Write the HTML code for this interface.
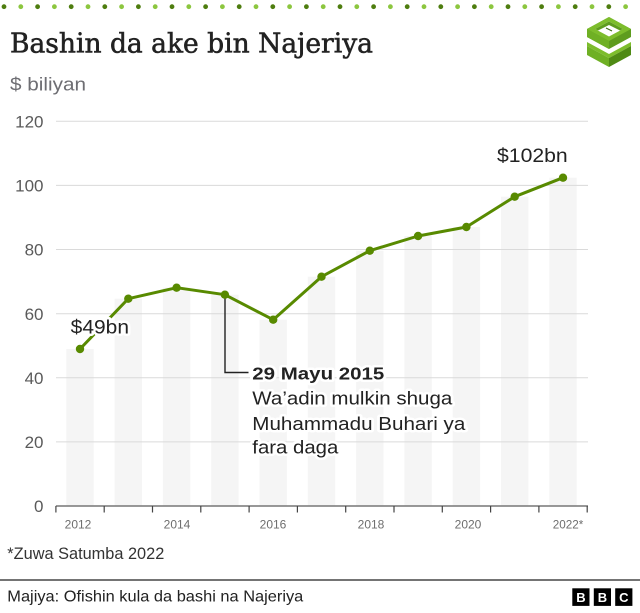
<!DOCTYPE html>
<html><head><meta charset="utf-8"><style>
html,body{margin:0;padding:0;background:#fff;}
svg{display:block;}
text{font-family:"Liberation Sans","DejaVu Sans",sans-serif;}
.halo{paint-order:stroke;stroke:#fff;stroke-width:5px;stroke-linejoin:round;}
</style></head><body>
<svg width="640" height="613" viewBox="0 0 640 613" xmlns="http://www.w3.org/2000/svg">
<rect width="640" height="613" fill="#fff"/>
<!-- top dots -->
<g>
<circle cx="4" cy="6.7" r="2.4" fill="#4e7d0f"/><circle cx="20.8" cy="6.7" r="2.4" fill="#8cc63f"/><circle cx="37.6" cy="6.7" r="2.4" fill="#4e7d0f"/><circle cx="54.4" cy="6.7" r="2.4" fill="#8cc63f"/><circle cx="71.2" cy="6.7" r="2.4" fill="#4e7d0f"/><circle cx="88" cy="6.7" r="2.4" fill="#8cc63f"/><circle cx="104.8" cy="6.7" r="2.4" fill="#4e7d0f"/><circle cx="121.6" cy="6.7" r="2.4" fill="#8cc63f"/><circle cx="138.4" cy="6.7" r="2.4" fill="#4e7d0f"/><circle cx="155.2" cy="6.7" r="2.4" fill="#8cc63f"/><circle cx="172" cy="6.7" r="2.4" fill="#4e7d0f"/><circle cx="188.8" cy="6.7" r="2.4" fill="#8cc63f"/><circle cx="205.6" cy="6.7" r="2.4" fill="#4e7d0f"/><circle cx="222.4" cy="6.7" r="2.4" fill="#8cc63f"/><circle cx="239.2" cy="6.7" r="2.4" fill="#4e7d0f"/><circle cx="256" cy="6.7" r="2.4" fill="#8cc63f"/><circle cx="272.8" cy="6.7" r="2.4" fill="#4e7d0f"/><circle cx="289.6" cy="6.7" r="2.4" fill="#8cc63f"/><circle cx="306.4" cy="6.7" r="2.4" fill="#4e7d0f"/><circle cx="323.2" cy="6.7" r="2.4" fill="#8cc63f"/><circle cx="340" cy="6.7" r="2.4" fill="#4e7d0f"/><circle cx="356.8" cy="6.7" r="2.4" fill="#8cc63f"/><circle cx="373.6" cy="6.7" r="2.4" fill="#4e7d0f"/><circle cx="390.4" cy="6.7" r="2.4" fill="#8cc63f"/><circle cx="407.2" cy="6.7" r="2.4" fill="#4e7d0f"/><circle cx="424" cy="6.7" r="2.4" fill="#8cc63f"/><circle cx="440.8" cy="6.7" r="2.4" fill="#4e7d0f"/><circle cx="457.6" cy="6.7" r="2.4" fill="#8cc63f"/><circle cx="474.4" cy="6.7" r="2.4" fill="#4e7d0f"/><circle cx="491.2" cy="6.7" r="2.4" fill="#8cc63f"/><circle cx="508" cy="6.7" r="2.4" fill="#4e7d0f"/><circle cx="524.8" cy="6.7" r="2.4" fill="#8cc63f"/><circle cx="541.6" cy="6.7" r="2.4" fill="#4e7d0f"/><circle cx="558.4" cy="6.7" r="2.4" fill="#8cc63f"/><circle cx="575.2" cy="6.7" r="2.4" fill="#4e7d0f"/><circle cx="592" cy="6.7" r="2.4" fill="#8cc63f"/><circle cx="608.8" cy="6.7" r="2.4" fill="#4e7d0f"/><circle cx="625.6" cy="6.7" r="2.4" fill="#8cc63f"/>
</g>
<!-- title -->
<text x="10" y="52.3" font-size="27" fill="#222" stroke="#222" stroke-width="0.55" style="font-family:'DejaVu Serif','Liberation Serif',serif" textLength="363" lengthAdjust="spacingAndGlyphs">Bashin da ake bin Najeriya</text>
<text x="10" y="90.5" font-size="18" fill="#6e6e73" textLength="76" lengthAdjust="spacingAndGlyphs">$ biliyan</text>
<!-- logo -->
<g>
<polygon points="609,17 631,29 631,37 609,49 587,37 587,29" fill="#5e9c1e"/>
<polygon points="587,29 609,41 609,49 587,37" fill="#6fb024"/>
<polygon points="609,17 631,29 609,41 587,29" fill="#7dbd2c"/>
<polygon points="609,21.5 623,29 609,36.5 595,29" fill="#fff"/>
<polygon points="609,21.5 623,29 620,30.5 609,25 598,30.5 595,29" fill="#5e9c1e"/>
<line x1="606" y1="28" x2="612" y2="31" stroke="#3d6b10" stroke-width="1"/>
<polygon points="587,42 609,54 631,42 631,46 609,58 587,46" fill="#7dbd2c"/>
<polygon points="587,46 609,58 609,67 587,55" fill="#6fb024"/>
<polygon points="609,58 631,46 631,55 609,67" fill="#4f8a14"/>
</g>
<!-- bars -->
<g fill="#f5f5f5">
<rect x="66.3" y="349" width="27.4" height="157"/>
<rect x="114.6" y="298.7" width="27.4" height="207.3"/>
<rect x="162.9" y="287.7" width="27.4" height="218.3"/>
<rect x="211.2" y="294.7" width="27.4" height="211.3"/>
<rect x="259.5" y="319.7" width="27.4" height="186.3"/>
<rect x="307.8" y="276.7" width="27.4" height="229.3"/>
<rect x="356.1" y="250.7" width="27.4" height="255.3"/>
<rect x="404.4" y="236" width="27.4" height="270"/>
<rect x="452.7" y="227" width="27.4" height="279"/>
<rect x="501" y="196.7" width="27.4" height="309.3"/>
<rect x="549.3" y="177.7" width="27.4" height="328.3"/>
</g>
<!-- gridlines -->
<g stroke="#dadada" stroke-width="1">
<line x1="56" y1="121.3" x2="588" y2="121.3"/>
<line x1="56" y1="185.4" x2="588" y2="185.4"/>
<line x1="56" y1="249.5" x2="588" y2="249.5"/>
<line x1="56" y1="313.7" x2="588" y2="313.7"/>
<line x1="56" y1="377.8" x2="588" y2="377.8"/>
<line x1="56" y1="441.9" x2="588" y2="441.9"/>
</g>
<!-- y labels -->
<g font-size="17" fill="#5a5a5a" text-anchor="end">
<text x="43.5" y="127.5">120</text>
<text x="43.5" y="191.5">100</text>
<text x="43.5" y="255.7">80</text>
<text x="43.5" y="319.8">60</text>
<text x="43.5" y="383.9">40</text>
<text x="43.5" y="448">20</text>
<text x="43.5" y="512">0</text>
</g>
<!-- axis -->
<line x1="55.9" y1="506" x2="588" y2="506" stroke="#777" stroke-width="1.5"/>
<g stroke="#444" stroke-width="1.2">
<line x1="55.9" y1="506" x2="55.9" y2="512.5"/>
<line x1="104.2" y1="506" x2="104.2" y2="512.5"/>
<line x1="152.5" y1="506" x2="152.5" y2="512.5"/>
<line x1="200.8" y1="506" x2="200.8" y2="512.5"/>
<line x1="249.1" y1="506" x2="249.1" y2="512.5"/>
<line x1="297.4" y1="506" x2="297.4" y2="512.5"/>
<line x1="345.7" y1="506" x2="345.7" y2="512.5"/>
<line x1="394" y1="506" x2="394" y2="512.5"/>
<line x1="442.3" y1="506" x2="442.3" y2="512.5"/>
<line x1="490.6" y1="506" x2="490.6" y2="512.5"/>
<line x1="538.9" y1="506" x2="538.9" y2="512.5"/>
<line x1="587.2" y1="506" x2="587.2" y2="512.5"/>
</g>
<g font-size="12" fill="#6e6e6e" text-anchor="middle">
<text x="78" y="528.3">2012</text>
<text x="177" y="528.3">2014</text>
<text x="273" y="528.3">2016</text>
<text x="371" y="528.3">2018</text>
<text x="468" y="528.3">2020</text>
</g>
<text x="552.7" y="528.3" font-size="12" fill="#6e6e6e" textLength="30.6" lengthAdjust="spacingAndGlyphs">2022*</text>
<!-- annotation connector -->
<polyline points="225,297 225,372.5 248.5,372.5" fill="none" stroke="#222" stroke-width="1.4"/>
<!-- line series -->
<polyline points="80,349 128.3,298.7 176.6,287.7 224.9,294.7 273.2,319.7 321.5,276.7 369.8,250.7 418.1,236 466.4,227 514.7,196.7 563,177.7" fill="none" stroke="#588a00" stroke-width="3" stroke-linejoin="round"/>
<g fill="#588a00">
<circle cx="80" cy="349" r="4.2"/><circle cx="128.3" cy="298.7" r="4.2"/><circle cx="176.6" cy="287.7" r="4.2"/><circle cx="224.9" cy="294.7" r="4.2"/><circle cx="273.2" cy="319.7" r="4.2"/><circle cx="321.5" cy="276.7" r="4.2"/><circle cx="369.8" cy="250.7" r="4.2"/><circle cx="418.1" cy="236" r="4.2"/><circle cx="466.4" cy="227" r="4.2"/><circle cx="514.7" cy="196.7" r="4.2"/><circle cx="563" cy="177.7" r="4.2"/>
</g>
<!-- value labels -->
<text class="halo" x="70.7" y="333.3" font-size="19" fill="#222" textLength="58.3" lengthAdjust="spacingAndGlyphs">$49bn</text>
<text class="halo" x="497" y="162" font-size="19" fill="#222" textLength="70.7" lengthAdjust="spacingAndGlyphs">$102bn</text>
<!-- annotation text -->
<text class="halo" x="252.3" y="379.4" font-size="17.5" font-weight="bold" fill="#222" textLength="132" lengthAdjust="spacingAndGlyphs">29 Mayu 2015</text>
<text class="halo" x="252.3" y="404.6" font-size="18" fill="#222" textLength="200" lengthAdjust="spacingAndGlyphs">Wa’adin mulkin shuga</text>
<text class="halo" x="252.3" y="429.8" font-size="18" fill="#222" textLength="213" lengthAdjust="spacingAndGlyphs">Muhammadu Buhari ya</text>
<text class="halo" x="252.3" y="453.6" font-size="18" fill="#222" textLength="86" lengthAdjust="spacingAndGlyphs">fara daga</text>
<!-- footnote -->
<text x="7.3" y="559" font-size="16.5" fill="#333" textLength="157" lengthAdjust="spacingAndGlyphs">*Zuwa Satumba 2022</text>
<line x1="0" y1="580" x2="640" y2="580" stroke="#222" stroke-width="1.2"/>
<text x="7.3" y="601.7" font-size="16" fill="#222" textLength="296" lengthAdjust="spacingAndGlyphs">Majiya: Ofishin kula da bashi na Najeriya</text>
<!-- BBC blocks -->
<g>
<rect x="572.3" y="588.3" width="17.2" height="17.6" fill="#000"/>
<rect x="593.8" y="588.3" width="17.2" height="17.6" fill="#000"/>
<rect x="615.2" y="588.3" width="17.2" height="17.6" fill="#000"/>
<g font-size="13" font-weight="bold" fill="#fff" text-anchor="middle">
<text x="580.9" y="602">B</text>
<text x="602.4" y="602">B</text>
<text x="623.8" y="602">C</text>
</g>
</g>
</svg>
</body></html>
